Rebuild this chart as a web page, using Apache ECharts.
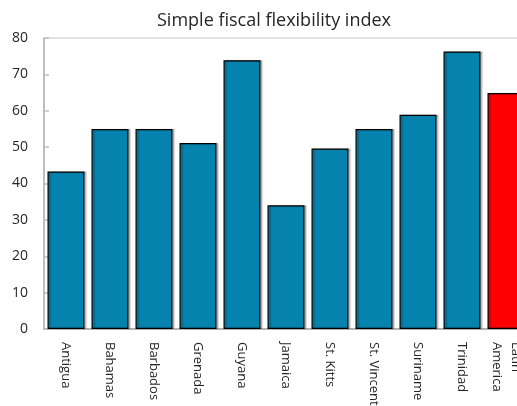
<!DOCTYPE html>
<html><head><meta charset="utf-8">
<script src="https://cdn.jsdelivr.net/npm/echarts@6/dist/echarts.min.js"></script>
<style>html,body{margin:0;padding:0;background:#fff}#c{width:517px;height:406px}</style>
</head><body><div id="c"></div>
<script>
const categories = ["Antigua","Bahamas","Barbados","Grenada","Guyana","Jamaica","St. Kitts","St. Vincent","Suriname","Trinidad","Latin\nAmerica"];
const values = [43.3, 55.0, 55.0, 51.1, 73.9, 34.0, 49.6, 55.0, 58.9, 76.3, 64.9];
const highlightCategory = "Latin\nAmerica";
const yTicks = [0,10,20,30,40,50,60,70,80];

const chart = echarts.init(document.getElementById('c'), null, {renderer:'canvas'});
const font = '"Open Sans", "Noto Sans", sans-serif';
chart.setOption({
  animation:false,
  title:{text:'Simple fiscal flexibility index', left:269, textAlign:'center', top:7,
    textStyle:{fontFamily:font, fontSize:18, fontWeight:'normal', color:'#262626'}},
  grid:{left:44, top:38, bottom:77, width:484, outerBoundsMode:'none', containLabel:false,
    show:true, borderColor:'#d9d9d9', borderWidth:1.5},
  xAxis:{type:'category', data:categories,
    axisLine:{lineStyle:{color:'#a6a6a6', width:1.5}},
    axisTick:{inside:true, length:5, lineStyle:{color:'#bfbfbf', width:2}},
    axisLabel:{rotate:-90, fontFamily:font, fontSize:13, color:'#262626', margin:13, interval:0, lineHeight:19}},
  yAxis:{type:'value', min:yTicks[0], max:yTicks[yTicks.length-1], interval:10,
    axisLine:{show:true, lineStyle:{color:'#b3b3b3', width:1.5}},
    axisTick:{show:true, inside:true, length:5, lineStyle:{color:'#bfbfbf', width:1.5}},
    splitLine:{show:false},
    axisLabel:{fontFamily:font, fontSize:14, color:'#262626', margin:16}},
  series:[{type:'bar', barWidth:37,
    data: values.map((v,i)=> categories[i]===highlightCategory
      ? {value:v, itemStyle:{color:'#ff0000'}} : v),
    itemStyle:{color:'#0582ad', borderColor:'#000', borderWidth:1.2,
      shadowColor:'rgba(0,0,0,0.25)', shadowOffsetX:2, shadowOffsetY:0, shadowBlur:1}}]
});
</script></body></html>
